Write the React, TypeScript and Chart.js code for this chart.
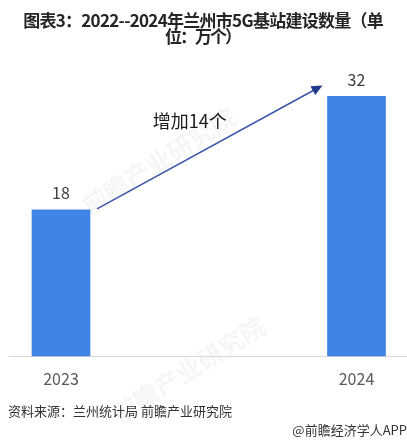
import React, { useEffect, useRef } from "react";
import { Chart, registerables } from "chart.js";

Chart.register(...registerables);

const categories = ["2023", "2024"];
const values = [18, 32];
const titleLines = ["图表3：2022--2024年兰州市5G基站建设数量（单", "位：万个）"];
const annotationText = "增加14个";
const sourceText = "资料来源：兰州统计局 前瞻产业研究院";
const brandText = "@前瞻经济学人APP";
const watermarkText = "前瞻产业研究院";

const FONT = '"Noto Sans CJK SC", "Noto Sans", sans-serif';
const BAR_COLOR = "#3F84E3";
const BAR_WIDTH = 58;

const overlayPlugin = {
  id: "overlay",
  beforeDatasetsDraw(chart: any) {
    const { ctx, scales } = chart;
    const x = scales.x;
    const y = scales.y;
    ctx.save();
    // watermarks
    ctx.fillStyle = "rgba(0,0,0,0.04)";
    ctx.font = `bold 25px ${FONT}`;
    ctx.textAlign = "center";
    ctx.textBaseline = "middle";
    const wm = (cx: number, cy: number) => {
      ctx.save();
      ctx.translate(cx, cy);
      ctx.rotate(-0.56);
      ctx.fillText(watermarkText, 0, 0);
      ctx.restore();
    };
    wm((x.left + x.right) / 2 - 50, y.getPixelForValue(24));
    wm((x.left + x.right) / 2 - 20, y.bottom + 14);
    // baseline
    ctx.strokeStyle = "#D9D9D9";
    ctx.lineWidth = 1;
    ctx.beginPath();
    const by = Math.round(y.getPixelForValue(0)) + 0.5;
    ctx.moveTo(9, by);
    ctx.lineTo(chart.width, by);
    ctx.stroke();
    ctx.restore();
  },
  afterDatasetsDraw(chart: any) {
    const { ctx, scales } = chart;
    const x = scales.x;
    const y = scales.y;
    ctx.save();
    // title
    ctx.fillStyle = "#262626";
    ctx.font = `bold 17px ${FONT}`;
    ctx.textAlign = "left";
    ctx.textBaseline = "middle";
    const targetW = [360, 75];
    const titleY = [21, 37];
    titleLines.forEach((line, i) => {
      ctx.letterSpacing = "0px";
      const w = ctx.measureText(line).width;
      const chars = Array.from(line).length;
      const ls = (targetW[i] - w) / chars;
      ctx.letterSpacing = `${ls}px`;
      const w2 = ctx.measureText(line).width - ls;
      ctx.fillText(line, chart.width / 2 - w2 / 2, titleY[i]);
    });
    ctx.letterSpacing = "0px";
    // value labels
    ctx.fillStyle = "#404040";
    ctx.font = `16px ${FONT}`;
    ctx.textAlign = "center";
    ctx.textBaseline = "middle";
    values.forEach((v, i) => {
      ctx.fillText(String(v), x.getPixelForValue(i), y.getPixelForValue(v) - 17);
    });
    // arrow
    const x0 = x.getPixelForValue(0) + BAR_WIDTH / 2 + 7;
    const y0 = y.getPixelForValue(values[0]) - 1;
    const x1 = x.getPixelForValue(1) - BAR_WIDTH / 2 - 5;
    const y1 = y.getPixelForValue(values[1]) - 11;
    ctx.strokeStyle = "#3A55A8";
    ctx.lineWidth = 1.5;
    ctx.beginPath();
    ctx.moveTo(x0, y0);
    const ang = Math.atan2(y1 - y0, x1 - x0);
    ctx.lineTo(x1 - 8 * Math.cos(ang), y1 - 8 * Math.sin(ang));
    ctx.stroke();
    ctx.fillStyle = "#1F3A8A";
    ctx.beginPath();
    ctx.moveTo(x1, y1);
    ctx.lineTo(x1 - 11 * Math.cos(ang) + 5 * Math.sin(ang), y1 - 11 * Math.sin(ang) - 5 * Math.cos(ang));
    ctx.lineTo(x1 - 11 * Math.cos(ang) - 5 * Math.sin(ang), y1 - 11 * Math.sin(ang) + 5 * Math.cos(ang));
    ctx.closePath();
    ctx.fill();
    // annotation text
    ctx.fillStyle = "#1a1a1a";
    ctx.font = `18px ${FONT}`;
    ctx.textAlign = "center";
    ctx.fillText(annotationText, (x0 + x1) / 2 - 20, y.getPixelForValue(29));
    // footer
    ctx.fillStyle = "#333333";
    ctx.font = `13px ${FONT}`;
    ctx.textAlign = "left";
    ctx.fillText(sourceText, 8, chart.height - 33);
    ctx.textAlign = "right";
    ctx.font = `13px ${FONT}`;
    ctx.fillText(brandText, chart.width, chart.height - 14);
    ctx.restore();
  },
};

export default function App() {
  const ref = useRef<HTMLCanvasElement | null>(null);
  useEffect(() => {
    if (!ref.current) return;
    const chart = new Chart(ref.current, {
      type: "bar",
      data: {
        labels: categories,
        datasets: [
          {
            data: values,
            backgroundColor: BAR_COLOR,
            barThickness: BAR_WIDTH,
            clip: false as any,
          },
        ],
      },
      options: {
        responsive: false,
        animation: false,
        layout: { padding: { left: 61, right: 50.5, top: 64, bottom: 49 } },
        plugins: {
          legend: { display: false },
          tooltip: { enabled: false },
          title: { display: false },
        },
        scales: {
          x: {
            type: "category",
            offset: false,
            grid: { display: false },
            border: { display: false },
            ticks: { color: "#595959", font: { family: FONT, size: 16 }, padding: 6 },
          },
          y: {
            display: false,
            min: 0,
            max: 36,
          },
        },
      },
      plugins: [overlayPlugin],
    });
    return () => chart.destroy();
  }, []);
  return (
    <div style={{ position: "fixed", left: 0, top: 0, width: 407, height: 444, background: "#fff" }}>
      <canvas ref={ref} width={407} height={444} style={{ width: 407, height: 444 }} />
    </div>
  );
}
